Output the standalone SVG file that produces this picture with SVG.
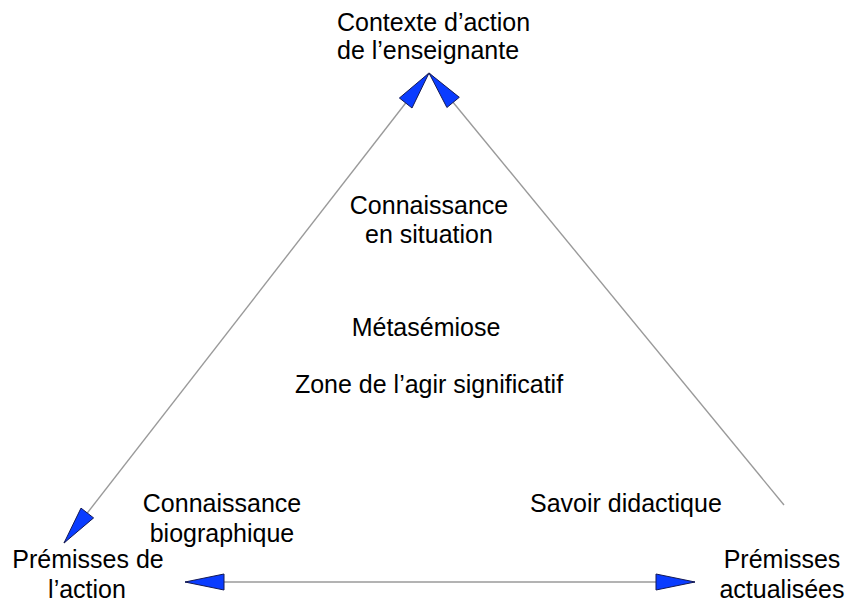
<svg xmlns="http://www.w3.org/2000/svg" width="847" height="606" viewBox="0 0 847 606">
  <style>
    .lbl { font-family: "Liberation Sans", Arial, sans-serif; font-size: 25px; fill: #000; }
    .mid { text-anchor: middle; }
    .edge { stroke: #9a9a9a; stroke-width: 1.4; fill: none; }
    .head { fill: #0a3cff; stroke: #141a55; stroke-width: 1; stroke-linejoin: miter; }
  </style>
  <rect width="847" height="606" fill="#fff"/>

  <g id="connectors">
    <!-- apex to lower-left corner, arrowheads at both ends -->
    <line class="edge" x1="429" y1="73" x2="64" y2="543"/>
    <polygon class="head" points="429,73 412,108 399.4,98"/>
    <polygon class="head" points="64,543 81,508.1 93.6,517.9"/>
    <!-- lower-right corner to apex, arrowhead at apex only -->
    <line class="edge" x1="429" y1="73" x2="784" y2="505"/>
    <polygon class="head" points="429,73 459.3,97.3 446.9,107.5"/>
    <!-- base line, arrowheads at both ends -->
    <line class="edge" x1="185" y1="582" x2="695" y2="582"/>
    <polygon class="head" points="185,582 224,574 224,590"/>
    <polygon class="head" points="695,582 656,574 656,590"/>
  </g>

  <g id="node-contexte">
    <text class="lbl" x="337" y="31">Contexte d’action</text>
    <text class="lbl" x="337" y="59">de l’enseignante</text>
  </g>

  <g id="node-centre">
    <text class="lbl mid" x="429" y="214">Connaissance</text>
    <text class="lbl mid" x="429" y="243">en situation</text>
    <text class="lbl mid" x="426" y="336">Métasémiose</text>
    <text class="lbl mid" x="429" y="393">Zone de l’agir significatif</text>
  </g>

  <g id="node-biographique">
    <text class="lbl mid" x="222" y="512">Connaissance</text>
    <text class="lbl mid" x="222" y="542">biographique</text>
  </g>

  <g id="node-didactique">
    <text class="lbl" x="530" y="512">Savoir didactique</text>
  </g>

  <g id="node-premisses-action">
    <text class="lbl mid" x="88" y="568">Prémisses de</text>
    <text class="lbl mid" x="87" y="598">l’action</text>
  </g>

  <g id="node-premisses-actualisees">
    <text class="lbl mid" x="782" y="568">Prémisses</text>
    <text class="lbl mid" x="782" y="598">actualisées</text>
  </g>
</svg>
